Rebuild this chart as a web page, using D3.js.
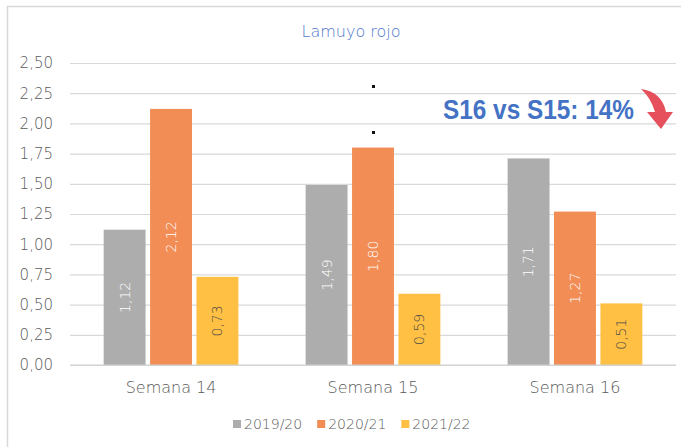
<!DOCTYPE html>
<html>
<head>
<meta charset="utf-8">
<script src="https://cdn.jsdelivr.net/npm/d3@7"></script>
<style>
    body { margin: 0; background: #fff; }
    svg { display: block; font-family: "DejaVu Sans", sans-serif; }
    .lite { font-weight: 200; }
</style>
</head>
<body>
<div id="chart"></div>
<script>
let categories = ["Semana 14", "Semana 15", "Semana 16"];
let seasons = ["2019/20", "2020/21", "2021/22"];
let values2019 = [1.12, 1.49, 1.71];
let values2020 = [2.12, 1.80, 1.27];
let values2021 = [0.73, 0.59, 0.51];
let yTicks = [0, 0.25, 0.5, 0.75, 1, 1.25, 1.5, 1.75, 2, 2.25, 2.5];
let title = "Lamuyo rojo";
let note = "S16 vs S15: 14%";

let colors = ["#ADADAD", "#F18D55", "#FFC043"];
let labelColors = ["#ffffff", "#ffffff", "#4a4a4a"];

let totalWidth = 681,
    totalHeight = 447,
    mLeft = 70,
    mRight = 676,
    mTop = 63,
    mBottom = 365;

let series = [values2019, values2020, values2021];
let rows = [];
categories.forEach(function(c, i) {
    seasons.forEach(function(s, j) {
        rows.push({cat: c, season: s, idx: j, value: series[j][i]});
    });
});

let fmt = function(v) { return d3.format(".2f")(v).replace(".", ","); };

let svg = d3.select("#chart").append("svg")
    .attr("width", totalWidth)
    .attr("height", totalHeight);

// outer frame
svg.append("rect")
    .attr("x", 7.5).attr("y", 6.5)
    .attr("width", 720).attr("height", 500)
    .attr("fill", "none")
    .attr("stroke", "#D9D9D9")
    .attr("stroke-width", 1.5);

let xScale = d3.scaleBand()
    .domain(categories)
    .range([mLeft, mRight])
    .paddingInner(0.333)
    .paddingOuter(0.1667);

let xInner = d3.scaleBand()
    .domain(seasons)
    .range([0, xScale.bandwidth()])
    .paddingInner(0.097);

let yScale = d3.scaleLinear()
    .domain([0, 2.5])
    .range([mBottom, mTop]);

let yAxis = d3.axisLeft(yScale)
    .tickValues(yTicks)
    .tickFormat(fmt)
    .tickSizeInner(-(mRight - mLeft))
    .tickSizeOuter(0)
    .tickPadding(17);

let gy = svg.append("g")
    .attr("transform", "translate(" + mLeft + ",0)")
    .call(yAxis);
gy.select(".domain").remove();
gy.selectAll(".tick line").attr("stroke", "#D9D9D9").attr("stroke-width", 1.2);
gy.selectAll(".tick text")
    .attr("class", "lite")
    .attr("fill", "#595959")
    .style("font-size", "15px")
    .style("font-family", "DejaVu Sans");

// title
svg.append("text")
    .attr("class", "lite")
    .attr("x", 351).attr("y", 37)
    .attr("text-anchor", "middle")
    .attr("fill", "#4F78CC")
    .style("font-size", "16px")
    .text(title);

// bars
svg.append("g").selectAll("rect")
    .data(rows)
    .join("rect")
    .attr("x", function(d) { return xScale(d.cat) + xInner(d.season); })
    .attr("y", function(d) { return yScale(d.value); })
    .attr("width", xInner.bandwidth())
    .attr("height", function(d) { return yScale(0) - yScale(d.value); })
    .attr("fill", function(d) { return colors[d.idx]; });

// data labels, rotated
svg.append("g").selectAll("text")
    .data(rows)
    .join("text")
    .attr("class", "lite")
    .attr("transform", function(d) {
        let cx = xScale(d.cat) + xInner(d.season) + xInner.bandwidth() / 2;
        let cy = (yScale(d.value) + yScale(0)) / 2;
        return "translate(" + cx + "," + cy + ") rotate(-90)";
    })
    .attr("text-anchor", "middle")
    .attr("dy", "0.35em")
    .attr("fill", function(d) { return labelColors[d.idx]; })
    .style("font-size", "14px")
    .text(function(d) { return fmt(d.value); });

// baseline
svg.append("line")
    .attr("x1", mLeft).attr("x2", mRight)
    .attr("y1", yScale(0)).attr("y2", yScale(0))
    .attr("stroke", "#D0D0D0")
    .attr("stroke-width", 1.2);

// category labels
let xAxis = d3.axisBottom(xScale).tickSize(0).tickPadding(17);
let gx = svg.append("g")
    .attr("transform", "translate(0," + mBottom + ")")
    .call(xAxis);
gx.select(".domain").remove();
gx.selectAll(".tick text")
    .attr("class", "lite")
    .attr("fill", "#595959")
    .style("font-size", "16px")
    .style("font-family", "DejaVu Sans");

// legend
let lx = 233;
seasons.forEach(function(s, j) {
    svg.append("rect")
        .attr("x", lx).attr("y", 420)
        .attr("width", 8).attr("height", 8)
        .attr("fill", colors[j]);
    let t = svg.append("text")
        .attr("class", "lite")
        .attr("x", lx + 11).attr("y", 429)
        .attr("fill", "#595959")
        .style("font-size", "14px")
        .text(s);
    lx += 11 + t.node().getComputedTextLength() + 15;
});

// annotation
svg.append("text")
    .attr("x", 443).attr("y", 119)
    .attr("textLength", 191)
    .attr("lengthAdjust", "spacingAndGlyphs")
    .attr("fill", "#4472C4")
    .style("font-family", "Liberation Sans, Arial, sans-serif")
    .style("font-weight", "bold")
    .style("font-size", "28px")
    .text(note);

// curved arrow
svg.append("path")
    .attr("d", "M641,89 Q662,92 666,112 L673,112 L661,129 L647,112 L655,112 Q651,98 641,89 Z")
    .attr("fill", "#E5505C");

// two stray dots
svg.append("rect").attr("x", 372).attr("y", 85).attr("width", 3).attr("height", 3).attr("fill", "#111");
svg.append("rect").attr("x", 372).attr("y", 131).attr("width", 3).attr("height", 3).attr("fill", "#111");
</script>
</body>
</html>
